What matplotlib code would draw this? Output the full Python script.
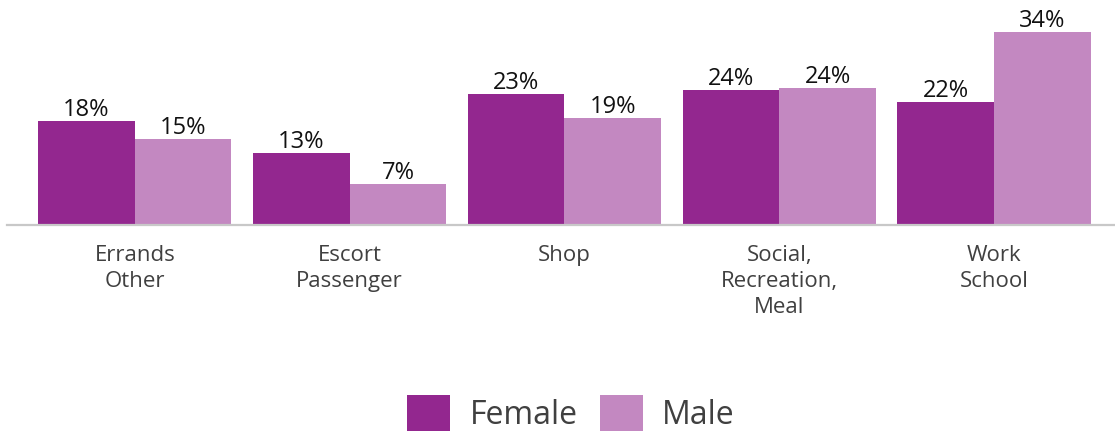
import matplotlib
matplotlib.use("Agg")
import matplotlib.pyplot as plt
import numpy as np

# dados (percentual de viagens por motivo)
categorias = ["Errands\nOther", "Escort\nPassenger", "Shop", "Social,\nRecreation,\nMeal", "Work\nSchool"]
female = [18.3, 12.7, 23.1, 23.8, 21.6]
male = [15.1, 7.2, 18.8, 24.1, 34.0]
series = ["Female", "Male"]

COR_F = "#93278F"
COR_M = "#C388C1"
FONTE = ["Open Sans", "DejaVu Sans"]

plt.rcParams["font.family"] = FONTE

fig = plt.figure(figsize=(11.15, 4.35), dpi=100)
ax = fig.add_axes([7 / 1115, (435 - 226) / 435, (1115 - 7) / 1115, 226 / 435])

x = np.arange(len(categorias))
w = 0.45
b1 = ax.bar(x - w / 2, female, w, color=COR_F, label=series[0])
b2 = ax.bar(x + w / 2, male, w, color=COR_M, label=series[1])

for bars in (b1, b2):
    for r in bars:
        v = r.get_height()
        ax.annotate(f"{v:.0f}%", (r.get_x() + r.get_width() / 2, v),
                    xytext=(0, 0), textcoords="offset points",
                    ha="center", va="bottom", fontsize=17, color="#111111")

ax.set_xlim(-0.595, 4.563)
ax.set_ylim(0, 39.8)
ax.set_xticks(x)
ax.set_xticklabels(categorias, fontsize=16, color="#404040", linespacing=1.3)
ax.tick_params(axis="x", length=0, pad=14)
ax.set_yticks([])
for s in ("top", "right", "left"):
    ax.spines[s].set_visible(False)
ax.spines["bottom"].set_color("#c8c8c8")
ax.spines["bottom"].set_linewidth(1.6)

fig.legend(handles=[b1, b2], labels=series, loc="center", bbox_to_anchor=(571 / 1115, 1 - 414 / 435),
           ncol=2, frameon=False, fontsize=23, labelcolor="#404040",
           handlelength=1.35, handleheight=1.35, handletextpad=0.6, columnspacing=0.7)

fig.savefig("out.png", dpi=100)
